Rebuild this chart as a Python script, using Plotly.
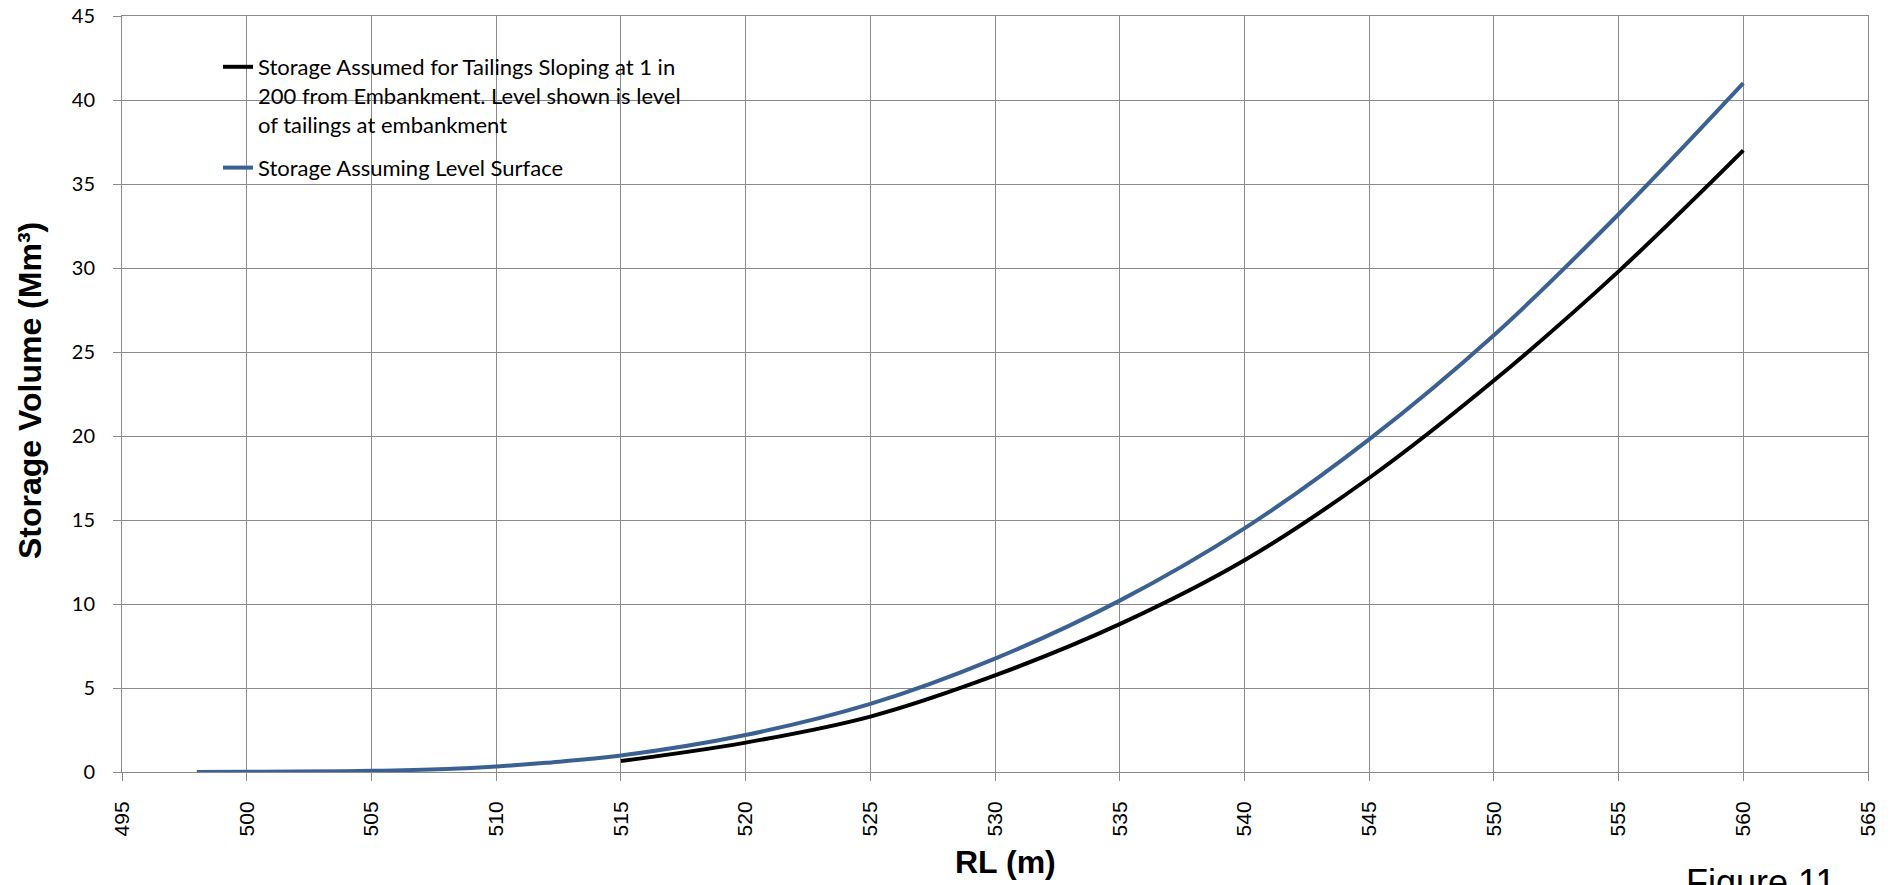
import plotly.graph_objects as go

# ---- data ----
rl_level = [498, 500, 502, 505, 508, 510, 512, 515, 520, 525, 530, 535, 540, 545, 550, 555, 560]
vol_level = [0.0, 0.01, 0.03, 0.07, 0.18, 0.33, 0.55, 0.98, 2.2, 4.05, 6.75, 10.2, 14.5, 19.8, 26.0, 33.2, 41.0]

rl_slope = [515, 520, 525, 530, 535, 540, 545, 550, 555, 560]
vol_slope = [0.65, 1.75, 3.3, 5.75, 8.8, 12.6, 17.5, 23.3, 29.8, 37.0]

name_slope = ("Storage Assumed for Tailings Sloping at 1 in<br>"
              "200 from Embankment. Level shown is level<br>"
              "of tailings at embankment")
name_level = "Storage Assuming Level Surface"

x_ticks = list(range(495, 566, 5))
y_ticks = list(range(0, 46, 5))

GRID = "#8A8A8A"
W, H = 1900, 885
L, R, T, B = 122, 32, 16, 113
pw, ph = W - L - R, H - T - B

def px(xpix):
    return (xpix - L) / pw

def py(ypix):
    return 1 - (ypix - T) / ph

fig = go.Figure()
fig.add_trace(go.Scatter(x=rl_slope, y=vol_slope, name=name_slope, mode="lines",
                         legendgroup="a",
                         line=dict(color="#000000", width=4, shape="spline")))
fig.add_trace(go.Scatter(x=rl_level, y=vol_level, name=name_level, mode="lines",
                         legendgroup="b",
                         line=dict(color="#3A6191", width=4, shape="spline")))

fig.update_layout(
    width=W, height=H,
    margin=dict(l=L, r=R, t=T, b=B, autoexpand=False),
    paper_bgcolor="white", plot_bgcolor="white",
    showlegend=True,
    legend=dict(x=px(218), y=py(46), xanchor="left", yanchor="top",
                bgcolor="rgba(255,255,255,0)", borderwidth=0,
                font=dict(family="Lato", size=22, color="#000000"),
                valign="top", traceorder="grouped", tracegroupgap=12,
                itemclick=False),
    shapes=[dict(type="rect", xref="paper", yref="paper", layer="between",
                 x0=px(195), x1=px(704), y0=py(248), y1=py(47),
                 fillcolor="white", line=dict(width=0))],
    annotations=[
        dict(text="Figure 11", xref="paper", yref="paper",
             x=px(1684), y=py(860), xanchor="left", yanchor="top",
             showarrow=False,
             font=dict(family="Liberation Sans", size=36, color="#000000")),
        dict(text="<b>RL (m)</b>", xref="paper", yref="paper",
             x=px(1005), y=py(862), xanchor="center", yanchor="middle",
             showarrow=False,
             font=dict(family="Liberation Sans", size=32, color="#000000")),
        dict(text="<b>Storage Volume (Mm³)</b>", xref="paper", yref="paper",
             x=px(30), y=py(391), xanchor="center", yanchor="middle",
             textangle=-90, showarrow=False,
             font=dict(family="Liberation Sans", size=32, color="#000000")),
    ],
)

fig.update_xaxes(
    range=[495, 565], tickmode="array", tickvals=x_ticks, ticktext=[str(v) for v in x_ticks],
    tickangle=-90, ticks="outside", ticklen=8, tickcolor=GRID, tickwidth=1,
    showgrid=True, gridcolor=GRID, gridwidth=1,
    showline=True, linecolor=GRID, linewidth=1, mirror=True, zeroline=False,
    tickfont=dict(family="Liberation Sans", size=21, color="#000000"),
    ticklabelstandoff=12,
)
fig.update_yaxes(
    range=[0, 45], tickmode="array", tickvals=y_ticks, ticktext=[str(v) for v in y_ticks],
    ticks="outside", ticklen=8, tickcolor=GRID, tickwidth=1,
    showgrid=True, gridcolor=GRID, gridwidth=1,
    showline=True, linecolor=GRID, linewidth=1, mirror=True, zeroline=False,
    tickfont=dict(family="Lato", size=20, color="#000000"),
    ticklabelstandoff=14,
)

fig.write_html("out.html", config={"displayModeBar": False},
               post_script="document.body.style.margin='0';")
